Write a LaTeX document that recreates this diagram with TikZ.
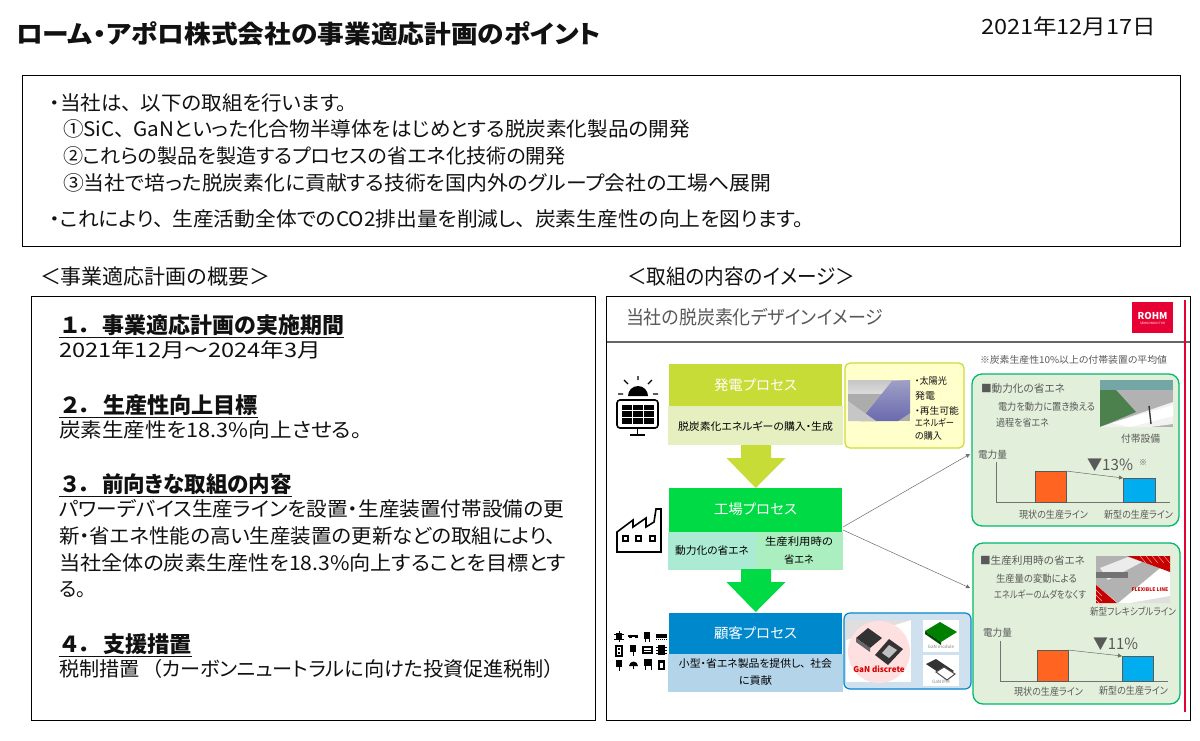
\documentclass[tikz,border=0pt]{standalone}
\usepackage{fontspec}
\usepackage{graphicx}
\setmainfont{Noto Sans CJK JP}[RawFeature=+palt]
\setsansfont{Noto Sans CJK JP}[RawFeature=+palt]
\usetikzlibrary{arrows.meta,calc}
\definecolor{genG}{HTML}{C8DC37}
\definecolor{genL}{HTML}{E6EFC0}
\definecolor{facG}{HTML}{00DA44}
\definecolor{facL}{HTML}{ABEBD3}
\definecolor{facR}{HTML}{ABEFC0}
\definecolor{cusB}{HTML}{0088CC}
\definecolor{cusL}{HTML}{B3D4E9}
\definecolor{yelF}{HTML}{FFFFCC}
\definecolor{bluF}{HTML}{CFE1EF}
\definecolor{grnF}{HTML}{E2EFDA}
\definecolor{grnB}{HTML}{00B96B}
\definecolor{rohm}{HTML}{E60033}
\definecolor{ink}{HTML}{111111}
\definecolor{gtx}{HTML}{595959}
\definecolor{org}{HTML}{FF6420}
\definecolor{cya}{HTML}{00AEEF}
\newcounter{tc}
\newcommand\tx[6][]{\stepcounter{tc}\pgfmathsetmacro\twid{#3-#2}%
 \node[lab,#1] (t\thetc) at (#2,#4) {\fontsize{#5pt}{#5pt}\selectfont\resizebox{\twid pt}{\height}{#6}};}
\newcommand\ph{\hspace{.42em}}
\newcommand\hd[2]{\underline{\makebox[22pt][c]{#1}\makebox[22pt][l]{．}#2}}
\newcommand\bigarrow[4]{% name, top y, colour, tip node
 \fill[#3] (741,#2) -- (771,#2) -- (771,#2+13) -- (785.5,#2+13) -- (#4) -- (726.5,#2+13) -- (741,#2+13) -- cycle;}
\tikzset{
 lab/.style={anchor=west,inner sep=0pt,outer sep=0pt,text=ink},
 gl/.style={lab,text=gtx},
 box/.style={draw=black,line width=.9pt,fill=white},
 conn/.style={draw=gray!85!black,line width=.5pt,-{Triangle[length=4pt,width=4pt]}},
 axis/.style={draw=gray!90!black,line width=.7pt},
 bar/.style={line width=.6pt},
}
\begin{document}
\begin{tikzpicture}[x=1pt,y=-1pt]
\useasboundingbox (0,0) rectangle (1200,740);
\fill[white] (0,0) rectangle (1200,740);
% title
\tx[font=\bfseries]{16}{601}{34}{25}{ローム・アポロ株式会社の事業適応計画のポイント}
\tx{981}{1156}{26}{21}{2021年12月17日}
% top box
\draw[box] (22,75) rectangle (1180,246);
\tx{50}{347}{103}{20}{・当社は、\ph 以下の取組を行います。}
\tx{63}{690}{129}{20}{①SiC、\ph GaNといった化合物半導体をはじめとする脱炭素化製品の開発}
\tx{63}{566}{156}{20}{②これらの製品を製造するプロセスの省エネ化技術の開発}
\tx{63}{771}{183}{20}{③当社で培った脱炭素化に貢献する技術を国内外のグループ会社の工場へ展開}
\tx{50}{804}{219}{20}{・これにより、\ph 生産活動全体でのCO2排出量を削減し、\ph 炭素生産性の向上を図ります。}
% headings
\tx{40}{270}{277}{21}{＜事業適応計画の概要＞}
\tx{627}{855}{277}{21}{＜取組の内容のイメージ＞}
% left box
\draw[box] (31,296) rectangle (595,720);
\tx[font=\bfseries]{59}{344}{326}{22}{\hd{１}{事業適応計画の実施期間}}
\tx{59}{321}{350}{20}{2021年12月～2024年3月}
\tx[font=\bfseries]{59}{258}{406}{22}{\hd{２}{生産性向上目標}}
\tx{59}{362}{430}{20}{炭素生産性を18.3\%向上させる。}
\tx[font=\bfseries]{59}{292}{485}{22}{\hd{３}{前向きな取組の内容}}
\tx{59}{564}{509}{20}{パワーデバイス生産ラインを設置・生産装置付帯設備の更}
\tx{59}{556}{536}{20}{新・省エネ性能の高い生産装置の更新などの取組により、}
\tx{59}{566}{563}{20}{当社全体の炭素生産性を18.3\%向上することを目標とす}
\tx{59}{86}{590}{20}{る。}
\tx[font=\bfseries]{59}{192}{645}{22}{\hd{４}{支援措置}}
\tx{59}{554}{669}{20}{税制措置\hspace{.6em}（カーボンニュートラルに向けた投資促進税制）}
% right box
\draw[box] (606,296) rectangle (1190,720);
\tx[gl]{626}{883}{317}{19}{当社の脱炭素化デザインイメージ}
\coordinate (rs) at (607,342); \coordinate (re) at (1189.5,342);
\draw[draw=gray!80!black,line width=1.1pt] (rs) -- (re);
\coordinate (rt) at (1184.5,300); \coordinate (rb) at (1184.5,712);
\draw[rohm,line width=2pt] (rt) -- (rb);
% logo
\fill[rohm] (1132,302) rectangle (1173,333);
\node[inner sep=0pt,text=white,font=\bfseries] (logo) at (1152.5,316) {\fontsize{9.5pt}{9.5pt}\selectfont ROHM};
\node[inner sep=0pt,text=white] (logo2) at (1152.5,323.5) {\fontsize{3pt}{3pt}\selectfont SEMICONDUCTOR};
% process headers
\fill[genG] (669,364) rectangle (842,406);
\fill[genL] (668,406) rectangle (843,445);
\fill[facG] (669,488) rectangle (842,532);
\fill[facL] (668,532) rectangle (756,570);
\fill[facR] (756,532) rectangle (843,570);
\fill[cusB] (669,613) rectangle (842,654);
\fill[cusL] (668,654) rectangle (843,692);
\coordinate (tip1) at (755.75,488);
\coordinate (tip2) at (755.75,612);
\bigarrow{a1}{445}{genG}{tip1}
\bigarrow{a2}{569}{facG}{tip2}
\node[inner sep=0pt,text=white] (n1) at (755.5,385) {\fontsize{14pt}{14pt}\selectfont\resizebox{83pt}{\height}{発電プロセス}};
\node[inner sep=0pt] (n1b) at (755.5,426) {\fontsize{10.5pt}{10.5pt}\selectfont\resizebox{155pt}{\height}{脱炭素化エネルギーの購入・生成}};
\node[inner sep=0pt,text=white] (n2) at (755.5,509) {\fontsize{14pt}{14pt}\selectfont\resizebox{83pt}{\height}{工場プロセス}};
\node[inner sep=0pt] (n2a) at (712,550.5) {\fontsize{10.5pt}{10.5pt}\selectfont\resizebox{74pt}{\height}{動力化の省エネ}};
\node[inner sep=0pt] (n2b) at (799,542) {\fontsize{10.5pt}{10.5pt}\selectfont\resizebox{68pt}{\height}{生産利用時の}};
\node[inner sep=0pt] (n2c) at (799,559.5) {\fontsize{10.5pt}{10.5pt}\selectfont\resizebox{30pt}{\height}{省エネ}};
\node[inner sep=0pt,text=white] (n3) at (755.5,633.5) {\fontsize{14pt}{14pt}\selectfont\resizebox{83pt}{\height}{顧客プロセス}};
\node[inner sep=0pt] (n3a) at (755.5,664) {\fontsize{10.5pt}{10.5pt}\selectfont\resizebox{153pt}{\height}{小型・省エネ製品を提供し、\ph 社会}};
\node[inner sep=0pt] (n3b) at (755.5,681) {\fontsize{10.5pt}{10.5pt}\selectfont\resizebox{33pt}{\height}{に貢献}};
% yellow box
\draw[genG,fill=yelF,line width=1.2pt,rounded corners=5pt] (845,363) rectangle (964,448);
\shade[top color=gray!45,bottom color=gray!25] (848,380) rectangle (910,396);
\fill[gray!65] (848,394) rectangle (910,421);
\shade[top color=blue!25!gray!60,bottom color=blue!30!gray!90] (860,421) -- (892,381) -- (910,380) -- (910,413) -- (898,421) -- cycle;
\fill[gray!45] (848,401) -- (876,421) -- (848,421) -- cycle;
\tx{915}{947}{381}{9.5}{・太陽光}
\tx{915}{935}{396}{9.5}{発電}
\tx{915}{959}{411}{9.5}{・再生可能}
\tx{915}{954}{423}{9.5}{エネルギー}
\tx{915}{942}{436}{9.5}{の購入}
% blue box
\draw[cusB,fill=bluF,line width=1.2pt,rounded corners=6pt] (844,613) rectangle (971,689);
\fill[white] (846,620) rectangle (911,682);
\fill[gray!25] (846,620) -- (911,620) -- (846,640) -- cycle;
\fill[red!12] (879,652) circle (31);
\fill[black!80] (856,638) -- (868,628) -- (882,638) -- (870,648) -- cycle;
\fill[black!60] (856,638) -- (870,648) -- (870,652) -- (856,642) -- cycle;
\fill[black!80] (875,655) -- (889,639) -- (903,649) -- (888,665) -- cycle;
\fill[gray!50] (882,653) -- (889,645) -- (897,650) -- (889,658) -- cycle;
\node[inner sep=0pt,text=red!85!black,font=\bfseries] (gan) at (879,669.5) {\fontsize{8pt}{8pt}\selectfont GaN discrete};
\fill[white] (923,620) rectangle (959,652);
\fill[green!50!black] (925,631) -- (940,622) -- (957,632) -- (941,642) -- cycle;
\fill[green!30!black] (925,631) -- (941,642) -- (941,645) -- (925,634) -- cycle;
\node[inner sep=0pt,text=gray] (ganm) at (941,646.5) {\fontsize{4.5pt}{4.5pt}\selectfont GaN module};
\fill[white] (923,655) rectangle (959,686);
\fill[black!80] (926,664) -- (936,659) -- (954,671) -- (944,676) -- cycle;
\draw[black!70,line width=1pt,fill=white] (936,672) -- (944,667) -- (955,674) -- (947,680) -- cycle;
\node[inner sep=0pt,text=gray] (gani) at (941,681.5) {\fontsize{4.5pt}{4.5pt}\selectfont GaN IPM};
% note
\tx[gl]{980}{1167}{360}{9.5}{※炭素生産性10\%以上の付帯装置の平均値}
% green box 1
\draw[grnB,fill=grnF,line width=1.3pt,rounded corners=10pt] (972,374) rectangle (1179,526);
\tx[gl]{981}{1065}{389}{10.5}{■動力化の省エネ}
\tx[gl]{998}{1095}{407}{10}{電力を動力に置き換える}
\tx[gl]{996}{1049}{423}{10}{過程を省エネ}
\fill[gray!60] (1100,380) rectangle (1173,427);
\fill[gray!45!teal!70] (1100,380) rectangle (1173,390);
\fill[gray!75!green!80!black] (1100,390) -- (1116,390) -- (1136,412) -- (1100,427) -- cycle;
\fill[gray!10] (1100,427) -- (1173,402) -- (1173,424) -- (1150,427) -- cycle;
\fill[white] (1112,423) -- (1173,405) -- (1173,416) -- (1130,427) -- cycle;
\draw[black!80,line width=1.4pt] (1149,406) -- (1151,424);
\tx[gl]{1121}{1160}{439}{10}{付帯設備}
\tx[gl]{978}{1007}{455}{10}{電力量}
\coordinate (a1t) at (996,462); \coordinate (a1o) at (996,502); \coordinate (a1e) at (1170,502);
\draw[axis] (a1t) -- (a1o) -- (a1e);
\draw[bar,fill=org,draw=gray!70!black] (1035,471) rectangle (1066,502);
\draw[bar,fill=cya,draw=gray!70!black] (1123,478) rectangle (1155,502);
\coordinate (b1s) at (1066,471); \coordinate (b1e) at (1123,478);
\draw[conn] (b1s) -- (b1e);
\tx[gl]{1087}{1133}{465}{15.5}{▼13\%}
\tx[gl]{1139}{1147}{463}{8}{※}
\tx[gl]{1019}{1088}{515}{10}{現状の生産ライン}
\tx[gl]{1104}{1173}{515}{10}{新型の生産ライン}
% green box 2
\draw[grnB,fill=grnF,line width=1.3pt,rounded corners=10pt] (973,543) rectangle (1180,704);
\tx[gl]{980}{1085}{561}{10.5}{■生産利用時の省エネ}
\tx[gl]{996}{1077}{579}{10}{生産量の変動による}
\tx[gl]{994}{1086}{595}{10}{エネルギーのムダをなくす}
\fill[white] (1096,556) rectangle (1170,603);
\fill[gray!25] (1130,603) -- (1170,596) -- (1170,603) -- cycle;
\fill[gray!60] (1096,556) -- (1127,556) -- (1160,568) -- (1118,603) -- (1096,585) -- cycle;
\fill[gray!15] (1100,568) -- (1128,557) -- (1142,562) -- (1108,580) -- cycle;
\fill[black!55] (1096,572) -- (1128,572) -- (1128,578) -- (1096,578) -- cycle;
\fill[red!78!black] (1127,556) -- (1170,556) -- (1170,572) -- cycle;
\fill[red!78!black] (1096,585) -- (1117,603) -- (1096,603) -- cycle;
\foreach \d in {0,6,12,18,24}{\draw[white!70!red,line width=.4pt] (1140+\d,556) -- (1146+\d,563);}
\foreach \d in {0,5,10}{\draw[white!70!red,line width=.4pt] (1096,590+\d) -- (1102,596+\d);}
\node[inner sep=0pt,text=red!80!black,font=\bfseries] (flex) at (1150,590) {\fontsize{5pt}{5pt}\selectfont FLEXIBLE LINE};
\tx[gl]{1090}{1176}{612}{10}{新型フレキシブルライン}
\tx[gl]{983}{1012}{633}{10}{電力量}
\coordinate (a2t) at (1000,641); \coordinate (a2o) at (1000,681); \coordinate (a2e) at (1168,681);
\draw[axis] (a2t) -- (a2o) -- (a2e);
\draw[bar,fill=org,draw=gray!70!black] (1037,650) rectangle (1068,681);
\draw[bar,fill=cya,draw=gray!70!black] (1122,656) rectangle (1153,681);
\coordinate (b2s) at (1068,650); \coordinate (b2e) at (1122,656);
\draw[conn] (b2s) -- (b2e);
\tx[gl]{1093}{1138}{644}{15.5}{▼11\%}
\tx[gl]{1014}{1083}{692}{10}{現状の生産ライン}
\tx[gl]{1099}{1168}{691}{10}{新型の生産ライン}
% connectors
\coordinate (c0a) at (843,527); \coordinate (c1) at (970,454);
\coordinate (c0b) at (843,530); \coordinate (c2) at (970,588);
\draw[conn] (c0a) -- (c1);
\draw[conn] (c0b) -- (c2);
% solar icon
\fill[black] (628,396) arc (180:360:10) -- cycle;
\draw[black,line width=1.2pt] (638,376) -- (638,380) (618,394) -- (623,394) (653,394) -- (658,394) (624,380) -- (628,384) (652,380) -- (648,384);
\draw[black,line width=1.6pt,rounded corners=3pt] (617,400) rectangle (658,428);
\foreach \i in {0,1,2}{\foreach \j in {0,1,2}{\fill[black] (621.5+\i*11,404.5+\j*6.6) rectangle +(10,5.8);}}
\draw[black,line width=1.6pt] (637.5,428) -- (637.5,434);
\draw[black,line width=1.4pt] (630,435) -- (645,435);
% factory icon
\draw[black,line width=1.6pt,line join=miter] (617,552) -- (617,532) -- (633,520) -- (633,527) -- (646,518) -- (646,527) -- (654,522) -- (656,509) -- (661,509) -- (661,552) -- cycle;
\foreach \x in {623,636,650}{\draw[black,line width=1.4pt] (\x,536) rectangle +(5,5);}
% component icons
\fill[black] (616,633) rectangle (622,640); \draw[black,line width=.8pt] (614,634) -- (624,634) (614,639) -- (624,639) (619,631) -- (619,642);
\draw[black,line width=1.2pt] (628,636) -- (638,636); \fill[black] (629,635) rectangle (632,638); \fill[black] (635,635) rectangle (638,638);
\fill[black] (644,632) rectangle (650,639); \draw[black,line width=1pt] (645,639) -- (645,642) (649,639) -- (649,642);
\fill[black] (656,634) rectangle (667,638); \draw[black,line width=.8pt,dash pattern=on 1pt off 1pt] (656,639.5) -- (667,639.5);
\draw[black,line width=1.2pt] (616,646) rectangle (622,656); \fill[black] (618,648) rectangle (620,650); \fill[black] (618,652) rectangle (620,654);
\fill[black] (630,645) rectangle (636,652); \draw[black,line width=1pt] (633,652) -- (633,656);
\draw[black,line width=1.1pt] (643,647) rectangle (652,653); \draw[black,line width=.8pt] (643,650) -- (652,650);
\fill[black] (658,645) rectangle (665,655); \draw[black,line width=.7pt] (656,647) -- (667,647) (656,650) -- (667,650) (656,653) -- (667,653);
\fill[black] (616,660) rectangle (622,667); \draw[black,line width=1pt] (619,667) -- (619,671);
\fill[black] (629,666) arc (180:360:4.5) -- cycle; \draw[black,line width=1pt] (633.5,666) -- (633.5,669);
\fill[black] (644,659) rectangle (652,666); \draw[black,line width=1pt] (645,666) -- (645,670) (651,666) -- (651,670);
\draw[black,line width=1.1pt] (659,661) rectangle (664,669); \fill[black] (660,660) rectangle (663,663);
\end{tikzpicture}
\end{document}
